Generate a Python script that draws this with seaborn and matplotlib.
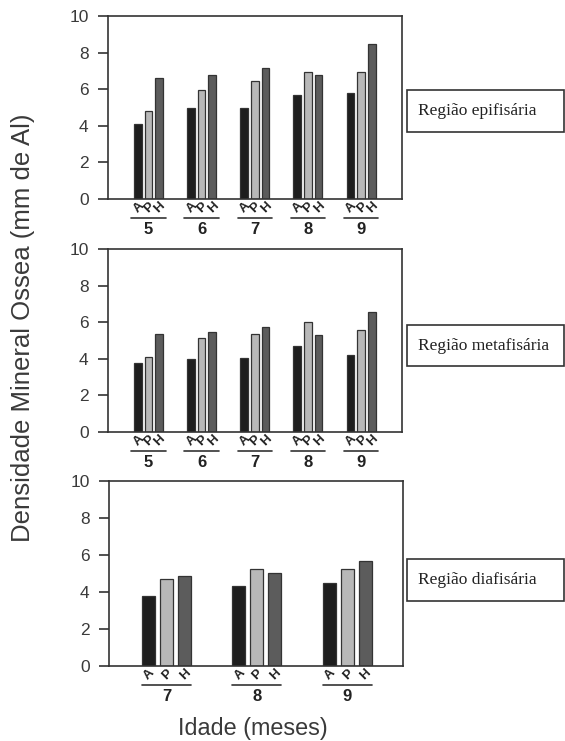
import pandas as pd
import matplotlib.pyplot as plt
import matplotlib.transforms as mtransforms
from matplotlib.patches import Rectangle
import seaborn as sns

# dados (densidade mineral óssea, mm de Al)
grupos = ['A', 'P', 'H']
cores = ['#1e1e1e', '#b8b8b8', '#5c5c5c']

idade_epi = ['5', '6', '7', '8', '9']
epi_A = [4.1, 4.95, 5.0, 5.68, 5.8]
epi_P = [4.83, 5.93, 6.44, 6.95, 6.95]
epi_H = [6.59, 6.8, 7.17, 6.8, 8.49]

idade_meta = ['5', '6', '7', '8', '9']
meta_A = [3.77, 3.99, 4.06, 4.7, 4.2]
meta_P = [4.11, 5.16, 5.36, 6.03, 5.59]
meta_H = [5.36, 5.45, 5.74, 5.28, 6.54]

idade_dia = ['7', '8', '9']
dia_A = [3.81, 4.33, 4.46]
dia_P = [4.68, 5.23, 5.23]
dia_H = [4.89, 5.02, 5.69]

regioes = ['Região epifisária', 'Região metafisária', 'Região diafisária']

sns.set_theme(style='white')
plt.rcParams['font.family'] = ['Liberation Sans', 'DejaVu Sans']
cinza = '#333333'


def monta_df(idades, a, p, h):
    linhas = []
    for g, vals in zip(grupos, [a, p, h]):
        for i, v in zip(idades, vals):
            linhas.append({'idade': i, 'grupo': g, 'densidade': v})
    return pd.DataFrame(linhas)


fig = plt.figure(figsize=(5.65, 7.41), dpi=100)
W, H = 565, 741

# posições dos eixos em pixels (esq, topo, dir, base)
caixas_px = [(108, 16, 402, 199), (108, 249, 402, 432), (109, 481, 403, 666)]
xlims = [(-0.76, 4.77), (-0.76, 4.77), (-0.64, 2.62)]
dados = [
    monta_df(idade_epi, epi_A, epi_P, epi_H),
    monta_df(idade_meta, meta_A, meta_P, meta_H),
    monta_df(idade_dia, dia_A, dia_P, dia_H),
]
rotulos_y = [(90, 132), (325, 366), (559, 601)]

for k, (df, (l, t, r, b)) in enumerate(zip(dados, caixas_px)):
    ax = fig.add_axes([l / W, 1 - b / H, (r - l) / W, (b - t) / H])
    sns.barplot(data=df, x='idade', y='densidade', hue='grupo', hue_order=grupos,
                palette=cores, width=0.6, gap=0.28, errorbar=None, legend=False,
                edgecolor=cinza, linewidth=0.9, saturation=1, ax=ax)
    ax.set_ylim(0, 10)
    ax.set_xlim(*xlims[k])
    ax.set_yticks(range(0, 11, 2))
    ax.set_xlabel('')
    ax.set_ylabel('')
    for s in ax.spines.values():
        s.set_color(cinza)
        s.set_linewidth(1.2)
    ax.tick_params(axis='y', direction='out', length=7, width=1.2, color=cinza,
                   pad=7, labelsize=12.5, labelcolor='#3a3a3a', left=True)
    ax.tick_params(axis='x', length=0, pad=16.5, labelsize=12, labelcolor='#222222')
    for lab in ax.get_xticklabels():
        lab.set_fontweight('bold')

    # letras A P H sob cada barra e linha sob cada grupo
    trans = mtransforms.blended_transform_factory(ax.transData, ax.transAxes)
    trans_linha = trans + mtransforms.ScaledTranslation(0, -0.19, fig.dpi_scale_trans)
    for g, cont in zip(grupos, ax.containers):
        for barra in cont:
            xc = barra.get_x() + barra.get_width() / 2
            ax.annotate(g, xy=(xc, 0), xycoords=trans, xytext=(0.5, -6),
                        textcoords='offset points', ha='center', va='center',
                        rotation=45, fontsize=9.5, fontweight='bold', color='#222222')
    n = len(ax.containers[0])
    for i in range(n):
        x0 = ax.containers[0][i].get_x()
        x1 = ax.containers[-1][i].get_x() + ax.containers[-1][i].get_width()
        pad = 0.05 if k < 2 else 0.0
        ax.plot([x0 - pad, x1 + pad], [0, 0], transform=trans_linha, color=cinza,
                lw=1.2, clip_on=False)

    # caixa com o nome da região
    y0, y1 = rotulos_y[k]
    fig.add_artist(Rectangle((407 / W, 1 - y1 / H), (563.5 - 407) / W, (y1 - y0) / H,
                             transform=fig.transFigure, facecolor='white',
                             edgecolor=cinza, lw=1.2))
    fig.text(418 / W, 1 - (y0 + y1) / 2 / H, regioes[k], ha='left', va='center',
             fontsize=12.5, family='Liberation Serif', color='#222222')

fig.text(23 / W, 1 - 328 / H, 'Densidade Mineral Ossea (mm de Al)', rotation=90,
         ha='center', va='center', fontsize=18.5, color='#3a3a3a')
fig.text(253 / W, 1 - 728 / H, 'Idade (meses)', ha='center', va='center',
         fontsize=16.8, color='#3a3a3a')

plt.savefig('out.png', dpi=100)
